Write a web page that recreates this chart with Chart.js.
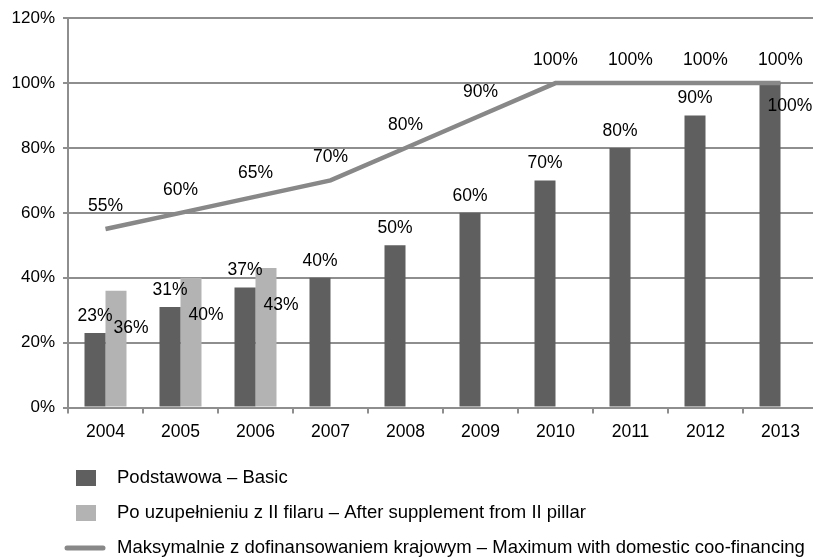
<!DOCTYPE html>
<html>
<head>
<meta charset="utf-8">
<script src="https://cdn.jsdelivr.net/npm/chart.js@4"></script>
<style>
  html, body { margin: 0; padding: 0; background: #fff; overflow: hidden; }
  #wrap { width: 823px; height: 559px; }
</style>
</head>
<body>
<div id="wrap"><canvas id="myChart" width="823" height="559"></canvas></div>
<script>
const years = ["2004", "2005", "2006", "2007", "2008", "2009", "2010", "2011", "2012", "2013"];
const basic = [23, 31, 37, 40, 50, 60, 70, 80, 90, 100];
const afterSupplement = [36, 40, 43, null, null, null, null, null, null, null];
const maximum = [55, 60, 65, 70, 80, 90, 100, 100, 100, 100];
const yTicks = [0, 20, 40, 60, 80, 100, 120];

const seriesNames = [
  "Podstawowa – Basic",
  "Po uzupełnieniu z II filaru – After supplement from II pillar",
  "Maksymalnie z dofinansowaniem krajowym – Maximum with domestic coo-financing"
];

const FONT = "'Liberation Sans', Arial, sans-serif";
const GRID = "#8e8e8e";

// value labels drawn next to bars / line points
const valueLabels = {
  id: "valueLabels",
  afterDatasetsDraw(chart) {
    const ctx = chart.ctx;
    ctx.save();
    ctx.font = "17.5px " + FONT;
    ctx.fillStyle = "#000";
    ctx.textAlign = "center";
    ctx.textBaseline = "middle";
    chart.data.datasets.forEach((ds, di) => {
      const meta = chart.getDatasetMeta(di);
      meta.data.forEach((el, i) => {
        const v = ds.data[i];
        if (v === null || v === undefined) return;
        let x = el.x, y = el.y;
        if (ds.type === "line") {
          y -= 23;
        } else if (di === 0) {
          // bar reaching the line: put its label below-right so it does not clash
          if (v >= maximum[i]) { x += 20; y += 23; } else { y -= 17; }
        } else {
          x += 15; y += 37;
        }
        ctx.fillText(v + "%", x, y);
      });
    });
    ctx.restore();
  }
};

// vertical legend under the chart
const listLegend = {
  id: "listLegend",
  afterDraw(chart) {
    const ctx = chart.ctx;
    ctx.save();
    ctx.font = "18.5px " + FONT;
    ctx.textBaseline = "middle";
    ctx.textAlign = "left";
    chart.data.datasets.forEach((ds, i) => {
      const yc = 478 + i * 35;
      if (ds.type === "line") {
        ctx.strokeStyle = ds.borderColor;
        ctx.lineWidth = 5;
        ctx.lineCap = "round";
        ctx.beginPath();
        ctx.moveTo(67, yc);
        ctx.lineTo(103, yc);
        ctx.stroke();
      } else {
        ctx.fillStyle = ds.backgroundColor;
        ctx.fillRect(76, yc - 8, 20, 16);
      }
      ctx.fillStyle = "#000";
      ctx.fillText(ds.label, 117, yc);
    });
    ctx.restore();
  }
};

const ctx = document.getElementById("myChart").getContext("2d");
new Chart(ctx, {
  data: {
    labels: years,
    datasets: [
      {
        type: "bar",
        label: seriesNames[0],
        data: basic,
        backgroundColor: "#5f5f5f",
        order: 1,
      },
      {
        type: "bar",
        label: seriesNames[1],
        data: afterSupplement,
        backgroundColor: "#b3b3b3",
        order: 2,
      },
      {
        type: "line",
        label: seriesNames[2],
        data: maximum,
        borderColor: "#888888",
        borderWidth: 4.5,
        pointRadius: 0,
        tension: 0,
        fill: false,
        order: 0,
      },
    ],
  },
  options: {
    responsive: false,
    devicePixelRatio: 1,
    animation: false,
    datasets: {
      bar: { categoryPercentage: 0.56, barPercentage: 1 },
    },
    layout: { padding: { top: 18, right: 5, left: 0, bottom: 0 } },
    plugins: {
      legend: { display: false },
      tooltip: { enabled: false },
    },
    scales: {
      x: {
        grid: { drawOnChartArea: false, drawTicks: true, tickLength: 6, color: GRID, lineWidth: 2 },
        border: { color: GRID, width: 2 },
        ticks: { color: "#000", font: { family: FONT, size: 17.5 }, padding: 8, maxRotation: 0 },
        afterFit(scale) { scale.height = 151.5; },
      },
      y: {
        min: 0,
        max: 120,
        afterBuildTicks(scale) { scale.ticks = yTicks.map(v => ({ value: v })); },
        grid: { color: GRID, lineWidth: 2, tickLength: 5 },
        border: { color: GRID, width: 2 },
        ticks: {
          color: "#000",
          font: { family: FONT, size: 17 },
          padding: 8,
          callback: (v) => v + "%",
        },
        afterFit(scale) { scale.width = 68; },
      },
    },
  },
  plugins: [valueLabels, listLegend],
});
</script>
</body>
</html>
